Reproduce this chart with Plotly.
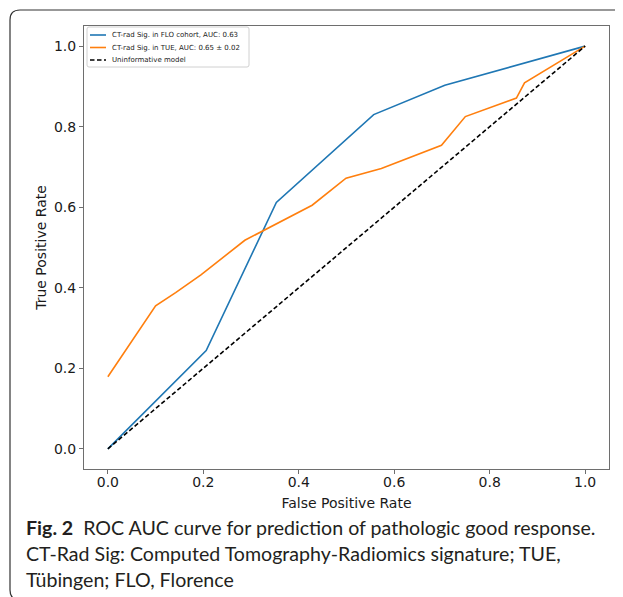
import plotly.graph_objects as go

# ---- data ----
FLO_FPR = [0.0, 0.206, 0.353, 0.557, 0.706, 1.0]
FLO_TPR = [0.0, 0.244, 0.612, 0.830, 0.903, 1.0]

TUE_FPR = [0.0, 0.100, 0.142, 0.195, 0.287, 0.428, 0.499, 0.573, 0.699, 0.749, 0.856, 0.873, 1.0]
TUE_TPR = [0.179, 0.355, 0.388, 0.432, 0.518, 0.605, 0.672, 0.696, 0.754, 0.825, 0.871, 0.909, 1.0]

CHANCE_X = [0.0, 1.0]
CHANCE_Y = [0.0, 1.0]

NAMES = [
    "CT-rad Sig. in FLO cohort, AUC: 0.63",
    "CT-rad Sig. in TUE, AUC: 0.65 ± 0.02",
    "Uninformative model",
]
COLORS = ["#1f77b4", "#ff7f0e", "black"]
DASHES = ["solid", "solid", "4.5px,2.5px"]
TICKS = [0.0, 0.2, 0.4, 0.6, 0.8, 1.0]
TICK_TEXT = ["0.0", "0.2", "0.4", "0.6", "0.8", "1.0"]
X_TITLE = "False Positive Rate"
Y_TITLE = "True Positive Rate"
CAPTION = [
    "<b>Fig. 2</b>  ROC AUC curve for prediction of pathologic good response.",
    "CT-Rad Sig: Computed Tomography-Radiomics signature; TUE,",
    "Tübingen; FLO, Florence",
]

# page body has an 8px default margin: figure is 8px smaller, coordinates below are window pixels
OFF = 8
W, H = 623 - OFF, 597 - OFF
L, R, T, B = 84 - OFF, 609 - OFF, 26 - OFF, 469 - OFF  # plot area in figure pixels


def px(x):
    return (x - OFF - L) / (R - L)


def py(y):
    return (B - (y - OFF)) / (B - T)


fig = go.Figure()
for xs, ys, nm, c, d in [(FLO_FPR, FLO_TPR, NAMES[0], COLORS[0], DASHES[0]),
                         (TUE_FPR, TUE_TPR, NAMES[1], COLORS[1], DASHES[1]),
                         (CHANCE_X, CHANCE_Y, NAMES[2], COLORS[2], DASHES[2])]:
    fig.add_trace(go.Scatter(x=xs, y=ys, mode="lines", name=nm, showlegend=False,
                             line=dict(color=c, width=1.6, dash=d)))

axis_common = dict(
    range=[-0.05, 1.05], tickvals=TICKS, ticktext=TICK_TEXT,
    showgrid=False, zeroline=False, showline=True, mirror=True,
    linecolor="#6e6e6e", linewidth=1, ticks="outside", ticklen=4,
    tickcolor="#6e6e6e", tickwidth=1,
    tickfont=dict(family="DejaVu Sans", size=14, color="#1a1a1a"),
)

fig.update_layout(
    width=W, height=H,
    margin=dict(l=L, r=W - R, t=T, b=H - B),
    paper_bgcolor="white", plot_bgcolor="white",
    font=dict(family="DejaVu Sans", color="#1a1a1a"),
    xaxis=dict(**axis_common, ticklabelstandoff=-4,
               title=dict(text=X_TITLE, font=dict(family="DejaVu Sans", size=14), standoff=9)),
    yaxis=dict(**axis_common,
               title=dict(text=Y_TITLE, font=dict(family="DejaVu Sans", size=14), standoff=4)),
    showlegend=False,
)

# ---- legend (matplotlib-style, upper left) ----
lx0, ly0, lx1, ly1, lr = 87, 27, 249, 67, 2
lpath = (f"M {px(lx0 + lr)},{py(ly0)} L {px(lx1 - lr)},{py(ly0)} "
         f"Q {px(lx1)},{py(ly0)} {px(lx1)},{py(ly0 + lr)} L {px(lx1)},{py(ly1 - lr)} "
         f"Q {px(lx1)},{py(ly1)} {px(lx1 - lr)},{py(ly1)} L {px(lx0 + lr)},{py(ly1)} "
         f"Q {px(lx0)},{py(ly1)} {px(lx0)},{py(ly1 - lr)} L {px(lx0)},{py(ly0 + lr)} "
         f"Q {px(lx0)},{py(ly0)} {px(lx0 + lr)},{py(ly0)} Z")
fig.add_shape(type="path", xref="paper", yref="paper", path=lpath,
              line=dict(color="#d0d0d0", width=1), fillcolor="rgba(255,255,255,0.8)",
              layer="above")
entry_y = [35, 47.5, 60]
for nm, c, d, ey in zip(NAMES, COLORS, DASHES, entry_y):
    fig.add_shape(type="line", xref="paper", yref="paper",
                  x0=px(90), x1=px(106), y0=py(ey), y1=py(ey),
                  line=dict(color=c, width=1.6, dash=d), layer="above")
    fig.add_annotation(x=px(110), y=py(ey), xref="paper", yref="paper",
                       xanchor="left", yanchor="middle", showarrow=False, text=nm,
                       font=dict(family="DejaVu Sans", size=7, color="#1a1a1a"))

# ---- outer rounded frame of the figure panel ----
fx0, fy0, fx1, fy1, rr = 10, 10, 640, 600, 10
path = (f"M {px(fx0)},{py(fy1 - rr)} L {px(fx0)},{py(fy0 + rr)} "
        f"Q {px(fx0)},{py(fy0)} {px(fx0 + rr)},{py(fy0)} "
        f"L {px(fx1)},{py(fy0)} "
        f"M {px(fx0)},{py(fy1 - rr)} Q {px(fx0)},{py(fy1)} {px(fx0 + rr)},{py(fy1)} "
        f"L {px(fx1)},{py(fy1)}")
fig.add_shape(type="path", xref="paper", yref="paper", path=path,
              line=dict(color="#333333", width=1.2), layer="above")

# ---- caption ----
cap_y = [527, 553, 579]
for txt, yy in zip(CAPTION, cap_y):
    fig.add_annotation(x=px(24), y=py(yy), xref="paper", yref="paper",
                       xanchor="left", yanchor="middle", showarrow=False,
                       text=txt, align="left",
                       font=dict(family="Lato", size=19.6, color="#231f20"))

fig.write_html("out.html")
